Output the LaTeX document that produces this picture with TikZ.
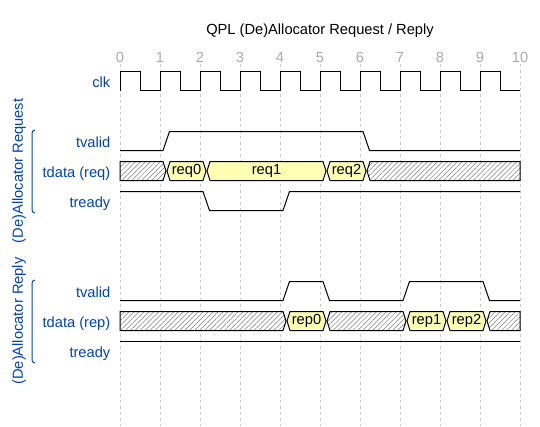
\documentclass[tikz,border=0pt]{standalone}
\usepackage{fontspec}
\setmainfont{Liberation Sans}
\usetikzlibrary{patterns.meta}
\definecolor{wdblue}{HTML}{0041C4}
\definecolor{wdyellow}{HTML}{FFFFB4}
\definecolor{wdgrid}{HTML}{CCCCCC}
\definecolor{wdtick}{HTML}{AAAAAA}

\begin{document}
\begin{tikzpicture}[x=1pt,y=-1pt,font=\fontsize{14.67}{17}\selectfont,
  wire/.style={line width=1pt},
  bus/.style={draw,line width=1pt,fill=wdyellow},
  idle/.style={draw,line width=1pt,preaction={fill=white},
    pattern={Lines[angle=45,distance=3.5pt,line width=0.5pt]},pattern color=gray},
  sig/.style={anchor=base east,inner sep=0pt,text=wdblue},
  grp/.style={rotate=90,inner sep=0pt,text=wdblue},
  brk/.style={draw=wdblue,line width=1pt,rounded corners=3pt},
  tick/.style={anchor=base,inner sep=0pt,text=wdtick}]
\useasboundingbox (0,0) rectangle (540,426);

\node[anchor=base](title) at (320,34.5) {QPL (De)Allocator Request / Reply};

% grid and cycle numbers
\foreach \k in {0,...,10} {
  \draw[wdgrid,dash pattern=on 3pt off 3pt,line width=0.8pt] (120+40*\k,64) -- (120+40*\k,426);
  \node[tick](t\k) at (120+40*\k,62) {\k};
}

% signal names
\node[sig](clk) at (110.5,87) {clk};
\node[sig](rqvalid) at (110.5,147) {tvalid};
\node[sig](rqdata) at (110.5,177) {tdata (req)};
\node[sig](rqready) at (110.5,207) {tready};
\node[sig](rpvalid) at (110.5,297) {tvalid};
\node[sig](rpdata) at (110.5,327) {tdata (rep)};
\node[sig](rpready) at (110.5,357) {tready};

% groups
\node[grp](rqgroup) at (19,171) {(De)Allocator Request};
\draw[brk] (35,130) -- (32,130) -- (32,213) -- (35,213);
\node[grp](rpgroup) at (19,321) {(De)Allocator Reply};
\draw[brk] (35,280) -- (32,280) -- (32,363) -- (35,363);

% clock
\draw[wire] (120,90.5) \foreach \k in {0,...,9} {
  -- (120+40*\k,71.5) -- (140+40*\k,71.5) -- (140+40*\k,90.5) -- (160+40*\k,90.5)};

% request
\draw[wire] (120,150.5) -- (163,150.5) -- (169.5,131.5) -- (363,131.5) -- (369.5,150.5) -- (520,150.5);
\draw[idle] (120,161.5) -- (163,161.5) -- (166,171) -- (163,180.5) -- (120,180.5) -- cycle;
\foreach \a/\b/\txt in {160/200/req0,200/320/req1,320/360/req2} {
  \draw[bus] (\a+10,161.5) -- (\b+3,161.5) -- (\b+6,171) -- (\b+3,180.5) -- (\a+10,180.5) -- (\a+7,171) -- cycle;
  \node(\txt) at ({(\a+\b)/2+6.5},171) {\txt};
}
\draw[idle] (370,161.5) -- (520,161.5) -- (520,180.5) -- (370,180.5) -- (367,171) -- cycle;
\draw[wire] (120,191.5) -- (203,191.5) -- (209.5,210.5) -- (283,210.5) -- (289.5,191.5) -- (520,191.5);

% reply
\draw[wire] (120,300.5) -- (283,300.5) -- (289.5,281.5) -- (323,281.5) -- (329.5,300.5) -- (403,300.5)
  -- (409.5,281.5) -- (483,281.5) -- (489.5,300.5) -- (520,300.5);
\draw[idle] (120,311.5) -- (283,311.5) -- (286,321) -- (283,330.5) -- (120,330.5) -- cycle;
\draw[idle] (330,311.5) -- (403,311.5) -- (406,321) -- (403,330.5) -- (330,330.5) -- (327,321) -- cycle;
\draw[idle] (490,311.5) -- (520,311.5) -- (520,330.5) -- (490,330.5) -- (487,321) -- cycle;
\foreach \a/\b/\txt in {280/320/rep0,400/440/rep1,440/480/rep2} {
  \draw[bus] (\a+10,311.5) -- (\b+3,311.5) -- (\b+6,321) -- (\b+3,330.5) -- (\a+10,330.5) -- (\a+7,321) -- cycle;
  \node(\txt) at ({(\a+\b)/2+6.5},321) {\txt};
}
\draw[wire] (120,341.5) -- (520,341.5);

\end{tikzpicture}
\end{document}
